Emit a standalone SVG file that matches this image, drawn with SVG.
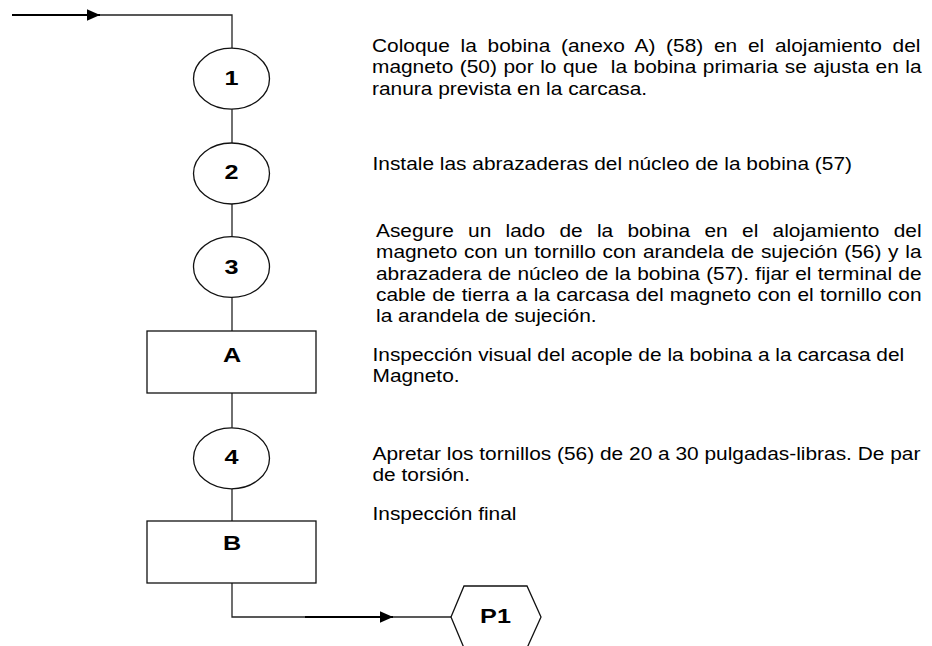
<svg xmlns="http://www.w3.org/2000/svg" width="932" height="646" viewBox="0 0 932 646">
<defs>
<style>
.shape{fill:#fff;stroke:#111;stroke-width:1.3}
.thin{fill:none;stroke:#222;stroke-width:1.3}
.thick{fill:none;stroke:#000;stroke-width:2}
.lbl{font-family:"Liberation Sans",Arial,sans-serif;font-weight:bold;font-size:21px;fill:#000;text-anchor:middle}
.desc{font-family:"Liberation Sans",Arial,sans-serif;font-size:18.5px;fill:#000;white-space:pre}
</style>
<marker id="arr" markerUnits="userSpaceOnUse" markerWidth="14" markerHeight="12" refX="13" refY="5.7" orient="auto">
<path d="M0,0 L13,5.7 L0,11.4 z" fill="#000"/>
</marker>
</defs>
<rect width="932" height="646" fill="#fff"/>
<g id="connectors">
<line class="thick" x1="12" y1="15" x2="100" y2="15" marker-end="url(#arr)"/>
<polyline class="thin" points="100,15 232,15 232,48"/>
<line class="thin" x1="232" y1="109" x2="232" y2="143"/>
<line class="thin" x1="232" y1="204" x2="232" y2="237"/>
<line class="thin" x1="232" y1="297" x2="232" y2="331"/>
<line class="thin" x1="232" y1="393" x2="232" y2="428"/>
<line class="thin" x1="232" y1="489" x2="232" y2="521"/>
<polyline class="thin" points="232,583 232,617 305,617"/>
<line class="thick" x1="305" y1="617" x2="393" y2="617" marker-end="url(#arr)"/>
<line class="thin" x1="393" y1="617" x2="451" y2="617"/>
</g>
<g id="n1"><ellipse class="shape" cx="231.5" cy="78.7" rx="38" ry="30.5"/><text class="lbl" transform="translate(231.5,85) scale(1.2,1)">1</text></g>
<g id="n2"><ellipse class="shape" cx="231.5" cy="173.5" rx="38" ry="30.5"/><text class="lbl" transform="translate(231.5,178.5) scale(1.2,1)">2</text></g>
<g id="n3"><ellipse class="shape" cx="231.5" cy="267" rx="38" ry="30.3"/><text class="lbl" transform="translate(231.5,274) scale(1.2,1)">3</text></g>
<g id="nA"><rect class="shape" x="147" y="331" width="169" height="62"/><text class="lbl" transform="translate(232,361.7) scale(1.2,1)">A</text></g>
<g id="n4"><ellipse class="shape" cx="231.5" cy="458.3" rx="38" ry="30.5"/><text class="lbl" transform="translate(231.5,464.3) scale(1.2,1)">4</text></g>
<g id="nB"><rect class="shape" x="147" y="521" width="169" height="62"/><text class="lbl" transform="translate(232,550) scale(1.2,1)">B</text></g>
<g id="nP1"><polygon class="shape" points="451,617 464,586 527,586 541,617 527,648 464,648"/><text class="lbl" transform="translate(495.5,623.3) scale(1.2,1)">P1</text></g>
<g id="desc1" transform="translate(372,0) scale(1.13,1)">
<text class="desc" x="0" y="52.2" word-spacing="4.38">Coloque la bobina (anexo A) (58) en el alojamiento del</text>
<text class="desc" x="0" y="73.5" word-spacing="0.63">magneto (50) por lo que  la bobina primaria se ajusta en la</text>
<text class="desc" x="0" y="94.8">ranura prevista en la carcasa.</text>
</g>
<g id="desc2" transform="translate(372.5,0) scale(1.13,1)">
<text class="desc" x="0" y="170">Instale las abrazaderas del núcleo de la bobina (57)</text>
</g>
<g id="desc3" transform="translate(376,0) scale(1.13,1)">
<text class="desc" x="0" y="237" word-spacing="7.52">Asegure un lado de la bobina en el alojamiento del</text>
<text class="desc" x="0" y="258.3" word-spacing="0.81">magneto con un tornillo con arandela de sujeción (56) y la</text>
<text class="desc" x="0" y="279.6" word-spacing="0.4">abrazadera de núcleo de la bobina (57). fijar el terminal de</text>
<text class="desc" x="0" y="300.9" word-spacing="0.46">cable de tierra a la carcasa del magneto con el tornillo con</text>
<text class="desc" x="0" y="322.2">la arandela de sujeción.</text>
</g>
<g id="descA" transform="translate(372.5,0) scale(1.13,1)">
<text class="desc" x="0" y="361">Inspección visual del acople de la bobina a la carcasa del</text>
<text class="desc" x="0" y="382.5">Magneto.</text>
</g>
<g id="desc4" transform="translate(372.5,0) scale(1.13,1)">
<text class="desc" x="0" y="460">Apretar los tornillos (56) de 20 a 30 pulgadas-libras. De par</text>
<text class="desc" x="0" y="481.5">de torsión.</text>
</g>
<g id="descB" transform="translate(372.5,0) scale(1.13,1)">
<text class="desc" x="0" y="520.5">Inspección final</text>
</g>
</svg>
